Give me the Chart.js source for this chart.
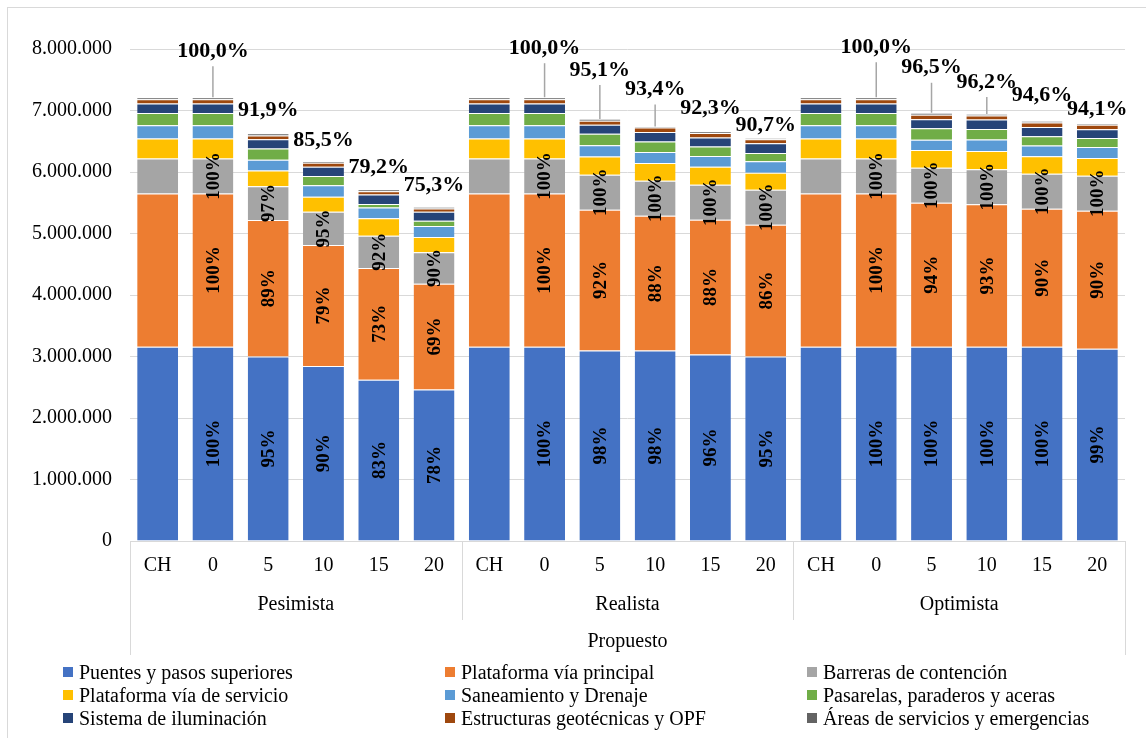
<!DOCTYPE html>
<html lang="es">
<head>
<meta charset="utf-8">
<title>Propuesto - escenarios</title>
<script src="https://cdn.jsdelivr.net/npm/chart.js@4.4.0/dist/chart.umd.min.js"></script>
<style>
  html, body { margin: 0; padding: 0; background: #fff; }
  #wrap { position: relative; width: 1146px; height: 738px; }
  #chart { position: absolute; left: 0; top: 0; }
  .lg { position: absolute; font: 20px "Liberation Serif", "Times New Roman", serif; color: #000; white-space: nowrap; line-height: 20px; }
  .lg i { position: absolute; left: 0; top: 5px; width: 10px; height: 10px; }
  .lg span { position: absolute; left: 16px; top: 0; }
</style>
</head>
<body>
<div id="wrap">
  <canvas id="chart" width="1146" height="738"></canvas>
  <div id="legend"></div>
</div>
<script>
// categories (3 scenarios x 6 years)
const groups = ["Pesimista", "Realista", "Optimista"];
const axisTitle = "Propuesto";
const categories = ["CH","0","5","10","15","20", "CH","0","5","10","15","20", "CH","0","5","10","15","20"];

// series values
const puentes      = [3160000,3160000,3002000,2844000,2623000,2465000, 3160000,3160000,3097000,3097000,3034000,3002000, 3160000,3160000,3160000,3160000,3160000,3128000];
const platPrincipal= [2490000,2490000,2216000,1967000,1818000,1718000, 2490000,2490000,2291000,2191000,2191000,2141000, 2490000,2490000,2341000,2316000,2241000,2241000];
const barreras     = [569000,569000,552000,541000,523000,512000, 569000,569000,569000,569000,569000,569000, 569000,569000,569000,569000,569000,569000];
const platServicio = [325000,325000,256000,246000,283000,250000, 325000,325000,295000,288000,290000,276000, 325000,325000,288000,298000,288000,288000];
const saneamiento  = [216000,216000,174000,186000,175000,175000, 216000,216000,181000,179000,176000,185000, 216000,216000,165000,184000,174000,179000];
const pasarelas    = [200000,200000,183000,151000,59000,86000, 200000,200000,190000,172000,156000,135000, 200000,200000,189000,174000,150000,146000];
const iluminacion  = [153000,153000,151000,151000,153000,147000, 153000,153000,146000,153000,146000,158000, 153000,153000,146000,151000,151000,146000];
const geotecnicas  = [70000,70000,60000,65000,54000,53000, 70000,70000,65000,75000,72000,65000, 70000,70000,72000,65000,72000,70000];
const areas        = [33000,33000,37000,23000,27000,28000, 33000,33000,28000,16000,26000,18000, 33000,33000,33000,28000,26000,20000];

// percentage labels shown on the bars
const pctPuentes   = [null,100,95,90,83,78, null,100,98,98,96,95, null,100,100,100,100,99];
const pctPrincipal = [null,100,89,79,73,69, null,100,92,88,88,86, null,100,94,93,90,90];
const pctBarreras  = [null,100,97,95,92,90, null,100,100,100,100,100, null,100,100,100,100,100];
const pctTotal     = [null,"100,0","91,9","85,5","79,2","75,3", null,"100,0","95,1","93,4","92,3","90,7", null,"100,0","96,5","96,2","94,6","94,1"];

const seriesNames = ["Puentes y pasos superiores","Plataforma vía principal","Barreras de contención",
  "Plataforma vía de servicio","Saneamiento y Drenaje","Pasarelas, paraderos y aceras",
  "Sistema de iluminación","Estructuras geotécnicas y OPF","Áreas de servicios y emergencias"];
const seriesData = [puentes, platPrincipal, barreras, platServicio, saneamiento, pasarelas, iluminacion, geotecnicas, areas];
const colors = ["#4472C4","#ED7D31","#A5A5A5","#FFC000","#5B9BD5","#70AD47","#264478","#9E480E","#636363"];

// how far above the bar top each total label sits (px); leader line if far
const labelLift = [0,46,23,21,22,21, 0,49,49,37,23,13, 0,50,45,32,26,14];

const FONT = '"Liberation Serif", "Times New Roman", serif';
const fmtNum = v => String(Math.round(v)).replace(/\B(?=(\d{3})+(?!\d))/g, ".");

const barLabels = {
  id: "barLabels",
  afterDatasetsDraw(chart) {
    const ctx = chart.ctx;
    const inner = [[0, pctPuentes], [1, pctPrincipal], [2, pctBarreras]];
    ctx.save();
    ctx.fillStyle = "#000";
    ctx.font = "bold 19px " + FONT;
    ctx.textAlign = "center";
    ctx.textBaseline = "middle";
    inner.forEach(([di, arr]) => {
      chart.getDatasetMeta(di).data.forEach((el, i) => {
        if (arr[i] == null) return;
        const cy = (el.y + el.base) / 2;
        ctx.save();
        ctx.translate(el.x, cy);
        ctx.rotate(-Math.PI / 2);
        ctx.fillText(arr[i] + "%", 0, 1);
        ctx.restore();
      });
    });
    // totals
    const top = chart.getDatasetMeta(seriesData.length - 1).data;
    ctx.font = "bold 22px " + FONT;
    top.forEach((el, i) => {
      if (pctTotal[i] == null) return;
      const ly = el.y - labelLift[i];
      if (labelLift[i] >= 30) {
        ctx.strokeStyle = "#A6A6A6";
        ctx.lineWidth = 1.5;
        ctx.beginPath();
        ctx.moveTo(el.x, ly + 15);
        ctx.lineTo(el.x, el.y);
        ctx.stroke();
      }
      ctx.fillText(pctTotal[i] + "%", el.x, ly);
    });
    ctx.restore();
  },
  afterDraw(chart) {
    const ctx = chart.ctx;
    const a = chart.chartArea;
    const x = chart.scales.x;
    const step = (a.right - a.left) / categories.length;
    ctx.save();
    // outer border
    ctx.strokeStyle = "#D9D9D9";
    ctx.lineWidth = 1;
    ctx.strokeRect(7.5, 7.5, 1150, 740);
    // group separators
    ctx.beginPath();
    for (let g = 0; g <= groups.length; g++) {
      const px = Math.round(a.left + g * 6 * step) + 0.5;
      const end = (g === 0 || g === groups.length) ? a.bottom + 114 : a.bottom + 79;
      ctx.moveTo(px, a.bottom);
      ctx.lineTo(px, end);
    }
    ctx.stroke();
    ctx.fillStyle = "#000";
    ctx.font = "20px " + FONT;
    ctx.textAlign = "center";
    ctx.textBaseline = "middle";
    groups.forEach((g, gi) => {
      const cx = (x.getPixelForValue(gi * 6) + x.getPixelForValue(gi * 6 + 5)) / 2;
      ctx.fillText(g, cx, a.bottom + 64);
    });
    ctx.fillText(axisTitle, (a.left + a.right) / 2, a.bottom + 101);
    ctx.restore();
  }
};

new Chart(document.getElementById("chart"), {
  type: "bar",
  data: {
    labels: categories,
    datasets: seriesData.map((d, i) => ({
      label: seriesNames[i],
      data: d,
      backgroundColor: colors[i],
      borderColor: "rgba(255,255,255,0.25)",
      borderWidth: { top: 1 },
      borderSkipped: false,
      barPercentage: 0.74,
      categoryPercentage: 1
    }))
  },
  options: {
    responsive: false,
    animation: false,
    layout: { padding: { top: 49, right: 21, left: 0, bottom: 0 } },
    plugins: { legend: { display: false }, tooltip: { enabled: false } },
    scales: {
      x: {
        stacked: true,
        grid: { display: false, drawTicks: false },
        border: { display: true, color: "#D9D9D9" },
        ticks: { color: "#000", font: { family: FONT, size: 20 }, padding: 13, autoSkip: false, maxRotation: 0 },
        afterFit: s => { s.height = 197; }
      },
      y: {
        stacked: true,
        min: 0, max: 8000000,
        grid: { color: "#D9D9D9", drawTicks: false },
        border: { display: false },
        ticks: { stepSize: 1000000, color: "#000", font: { family: FONT, size: 20 }, padding: 18, callback: v => fmtNum(v) },
        afterFit: s => { s.width = 130; }
      }
    }
  },
  plugins: [barLabels]
});

// legend, 3 columns
const colX = [63, 445, 807];
const rowY = [662, 685, 708];
const lg = document.getElementById("legend");
seriesNames.forEach((name, i) => {
  const d = document.createElement("div");
  d.className = "lg";
  d.style.left = colX[i % 3] + "px";
  d.style.top = rowY[Math.floor(i / 3)] + "px";
  d.innerHTML = '<i style="background:' + colors[i] + '"></i><span>' + name + '</span>';
  lg.appendChild(d);
});
</script>
</body>
</html>
